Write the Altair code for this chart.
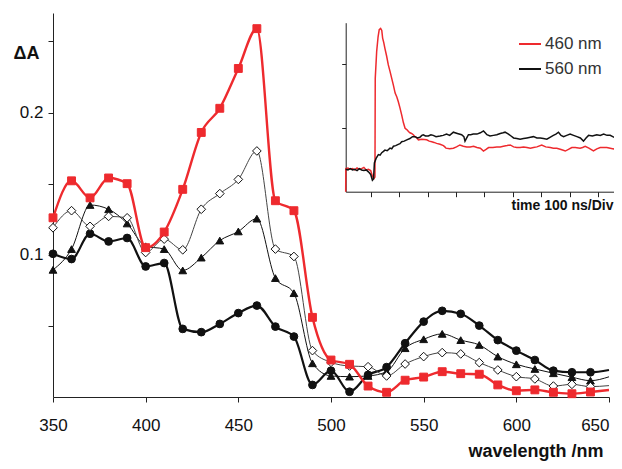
import altair as alt
import pandas as pd

# ---------------- main spectra ----------------
wavelength = [350, 360, 370, 380, 390, 400, 410, 420, 430, 440, 450, 460, 470, 480, 490,
              500, 510, 520, 530, 540, 550, 560, 570, 580, 590, 600, 610, 620, 630, 640, 650]

red_sq = [0.126, 0.152, 0.140, 0.154, 0.150, 0.105, 0.116, 0.146, 0.186, 0.203, 0.231, 0.259,
          0.138, 0.131, 0.056, 0.026, 0.023, 0.0077, 0.0033, 0.0118, 0.014, 0.0178, 0.0164,
          0.016, 0.0085, 0.0044, 0.005, 0.0033, 0.0023, 0.0035, 0.0049]

open_dia = [0.119, 0.131, 0.120, 0.127, 0.126, 0.1016, 0.111, 0.1035, 0.132, 0.143, 0.153,
            0.173, 0.104, 0.0988, 0.0326, 0.0244, 0.0218, 0.0213, 0.0148, 0.0232, 0.0284,
            0.0312, 0.0303, 0.0242, 0.019, 0.0143, 0.0127, 0.0077, 0.0089, 0.0073, 0.008]

tri = [0.0894, 0.104, 0.135, 0.132, 0.122, 0.106, 0.104, 0.089, 0.098, 0.110, 0.1164, 0.1254,
       0.0836, 0.073, 0.0237, 0.0148, 0.0143, 0.0148, 0.0178, 0.0343, 0.0406, 0.0444, 0.040,
       0.0366, 0.0284, 0.023, 0.0197, 0.0167, 0.0139, 0.0115, 0.0142]

circ = [0.1007, 0.097, 0.1148, 0.1094, 0.1118, 0.0918, 0.0942, 0.0479, 0.0456, 0.0514, 0.059,
        0.0643, 0.0495, 0.0425, 0.0085, 0.0185, 0.0037, 0.0155, 0.021, 0.0378, 0.053, 0.0606,
        0.0585, 0.0502, 0.040, 0.0326, 0.026, 0.0185, 0.0174, 0.0174, 0.019]

x_ticks = [350, 400, 450, 500, 550, 600, 650]
y_ticks = [0.05, 0.1, 0.15, 0.2, 0.25]

# ---------------- inset transients ----------------
t_560 = [12, 20, 28, 36, 44, 52, 60, 68, 76, 84, 92, 100, 106, 110, 113, 119, 127, 133, 139, 145,
         150, 158, 168, 174, 180, 188, 197, 203, 209, 218, 227, 238, 247, 256, 265, 273, 280, 285,
         293, 303, 312, 320, 330, 344, 355, 367, 378, 391, 405, 420, 428, 432, 438, 444, 452, 461,
         474, 486, 497, 503, 509, 520, 532, 544, 556, 566, 573, 585, 594, 603, 614, 626, 638, 650,
         662, 673, 685, 697, 708, 720, 731, 743, 752, 761, 770, 779, 790, 802, 814, 826, 838, 849,
         858, 867, 880, 896, 908, 920, 932, 943, 952, 961, 970, 978]
v_560 = [.35, .34, .36, .34, .35, .33, .36, .34, .33, .34, .31, .27, .18, .20, .45, .52, .58, .57, .61, .63,
         .65, .64, .68, .67, .71, .72, .74, .75, .78, .79, .81, .83, .86, .86, .84, .85, .88, .89,
         .87, .87, .89, .88, .86, .87, .88, .90, .88, .93, .91, .89, .86, .79, .84, .89, .89, .90,
         .90, .92, .95, .92, .89, .87, .88, .89, .91, .92, .93, .90, .87, .84, .83, .82, .83, .84,
         .85, .86, .84, .84, .83, .82, .85, .88, .90, .93, .88, .86, .88, .90, .88, .86, .84, .79,
         .84, .88, .87, .89, .88, .90, .88, .88, .86, .84, .87, .90]

t_460 = [12, 12.5, 20, 28, 36, 44, 52, 60, 68, 76, 84, 92, 100, 106, 112, 115, 116, 121, 126, 130,
         135, 139, 142, 146, 150, 156, 162, 168, 174, 180, 186, 192, 197, 203, 209, 215, 221, 227,
         233, 238, 244, 250, 256, 262, 268, 280, 297, 306, 315, 323, 332, 344, 356, 361, 365, 378,
         391, 402, 414, 426, 438, 450, 462, 474, 486, 497, 506, 515, 530, 544, 556, 567, 580, 591,
         603, 614, 626, 638, 650, 662, 673, 685, 702, 716, 732, 743, 755, 770, 785, 796, 808, 820,
         837, 846, 855, 868, 884, 896, 908, 920, 931, 943, 955, 964, 972, 978]
v_460 = [0, .36, .37, .35, .36, .34, .37, .35, .36, .38, .34, .35, .33, .24, .21, .23, 1.77, 2.19, 2.42, 2.53,
         2.55, 2.52, 2.40, 2.33, 2.24, 2.12, 1.98, 1.88, 1.77, 1.66, 1.54, 1.48, 1.41, 1.31, 1.20, 1.08, .99, .97,
         .94, .92, .91, .89, .86, .84, .81, .82, .81, .79, .78, .77, .755, .74, .72, .70, .68, .67,
         .68, .70, .73, .71, .70, .70, .71, .69, .68, .635, .66, .69, .69, .70, .70, .71, .72, .73,
         .70, .69, .69, .70, .69, .68, .69, .70, .73, .70, .69, .68, .68, .66, .635, .66, .69, .69,
         .68, .69, .71, .68, .636, .67, .69, .69, .69, .68, .667, .69, .714, .70]

inset_series = ["460 nm", "560 nm"]
inset_colors = ["#ee2a2e", "#111111"]
inset_x_ticks = [100, 200, 300, 400, 500, 600, 700, 800, 900]
inset_y_ticks = [1, 2]

RED = "#ee2a2e"
FONT = "Liberation Sans"

# ---------------- main chart ----------------
X = alt.X("wl:Q",
          scale=alt.Scale(domain=[350, 650], nice=False, zero=False),
          axis=alt.Axis(values=x_ticks, tickSize=5, labelPadding=15, labelFontSize=17,
                        labelFlush=False,
                        labelAlign=alt.ExprRef(expr="datum.value == 650 ? 'right' : 'center'"),
                        labelColor="#111", domainColor="#222", tickColor="#222", grid=False,
                        title="wavelength /nm", titleFontSize=18, titleFontWeight="bold",
                        titleColor="#111", titleX=550, titleY=59, titleAlign="right",
                        titleBaseline="alphabetic", titleAngle=0))
Y = alt.Y("v:Q",
          scale=alt.Scale(domain=[0, 0.27], nice=False, zero=False),
          axis=alt.Axis(values=y_ticks, tickSize=5, labelPadding=5, labelFontSize=17,
                        format=".1f",
                        labelColor="#111", domainColor="#222", tickColor="#222", grid=False,
                        labelExpr="(datum.value == 0.1 || datum.value == 0.2) ? datum.label : ''",
                        title="ΔA", titleFontSize=18, titleFontWeight="bold", titleColor="#111",
                        titleAngle=0, titleX=-40, titleY=45, titleAlign="left",
                        titleBaseline="alphabetic"))


def series(vals, color, width, shape, fill, stroke, size):
    df = pd.DataFrame({"wl": wavelength, "v": vals})
    line = alt.Chart(df).mark_line(color=color, strokeWidth=width, interpolate="monotone").encode(x=X, y=Y)
    pts = alt.Chart(df).transform_filter("datum.wl <= 640").mark_point(
        shape=shape, filled=True, fill=fill, stroke=stroke, strokeWidth=1, size=size, opacity=1
    ).encode(x=X, y=Y)
    return [line, pts]


main = alt.layer(
    *series(circ, "#111", 2.2, "circle", "#111", "#111", 60),
    *series(tri, "#111", 1.0, "triangle-up", "#111", "#111", 60),
    *series(open_dia, "#444", 1.0, "diamond", "white", "#111", 75),
    *series(red_sq, RED, 2.4, "square", RED, RED, 62),
)

# ---------------- inset ----------------
rows = []
for i, (t, v) in enumerate(zip(t_460, v_460)):
    rows.append({"t": t, "a": v, "s": "460 nm", "i": i})
for i, (t, v) in enumerate(zip(t_560, v_560)):
    rows.append({"t": t, "a": v, "s": "560 nm", "i": i})
inset_df = pd.DataFrame(rows)

inset = alt.Chart(inset_df).mark_line(strokeWidth=1.5).encode(
    x=alt.X("t:Q",
            scale=alt.Scale(domain=[12, 980], range=[292.7, 567.7], nice=False, zero=False),
            axis=alt.Axis(orient="bottom", offset=-205.3, values=inset_x_ticks, labels=False,
                          tickSize=5, grid=False, domainColor="#222", tickColor="#222",
                          title="time 100 ns/Div", titleFontSize=14, titleFontWeight="bold",
                          titleColor="#111", titleX=560, titleY=18, titleAlign="right",
                          titleBaseline="alphabetic", titleAngle=0)),
    y=alt.Y("a:Q",
            scale=alt.Scale(domain=[0, 2.64], range=[178.7, 9.7], nice=False, zero=False),
            axis=alt.Axis(orient="left", offset=-292.7, values=inset_y_ticks, labels=False,
                          tickSize=4, grid=False, domainColor="#222", tickColor="#222",
                          title=None)),
    color=alt.Color("s:N",
                    scale=alt.Scale(domain=inset_series, range=inset_colors),
                    legend=alt.Legend(orient="none", legendX=465, legendY=19, title=None,
                                      symbolType="stroke", symbolSize=484, symbolStrokeWidth=2,
                                      labelFontSize=17, labelColor="#333", labelOffset=3,
                                      rowPadding=5, padding=0)),
    order="i:Q",
)

chart = alt.layer(main, inset).resolve_scale(x="independent", y="independent").properties(
    width=556, height=384,
    padding={"left": 45, "top": 5, "right": 5, "bottom": 64},
    autosize=alt.AutoSizeParams(type="none"),
).configure(font=FONT).configure_view(stroke=None)

chart.save("out.html", embed_options={"renderer": "svg", "actions": False})
